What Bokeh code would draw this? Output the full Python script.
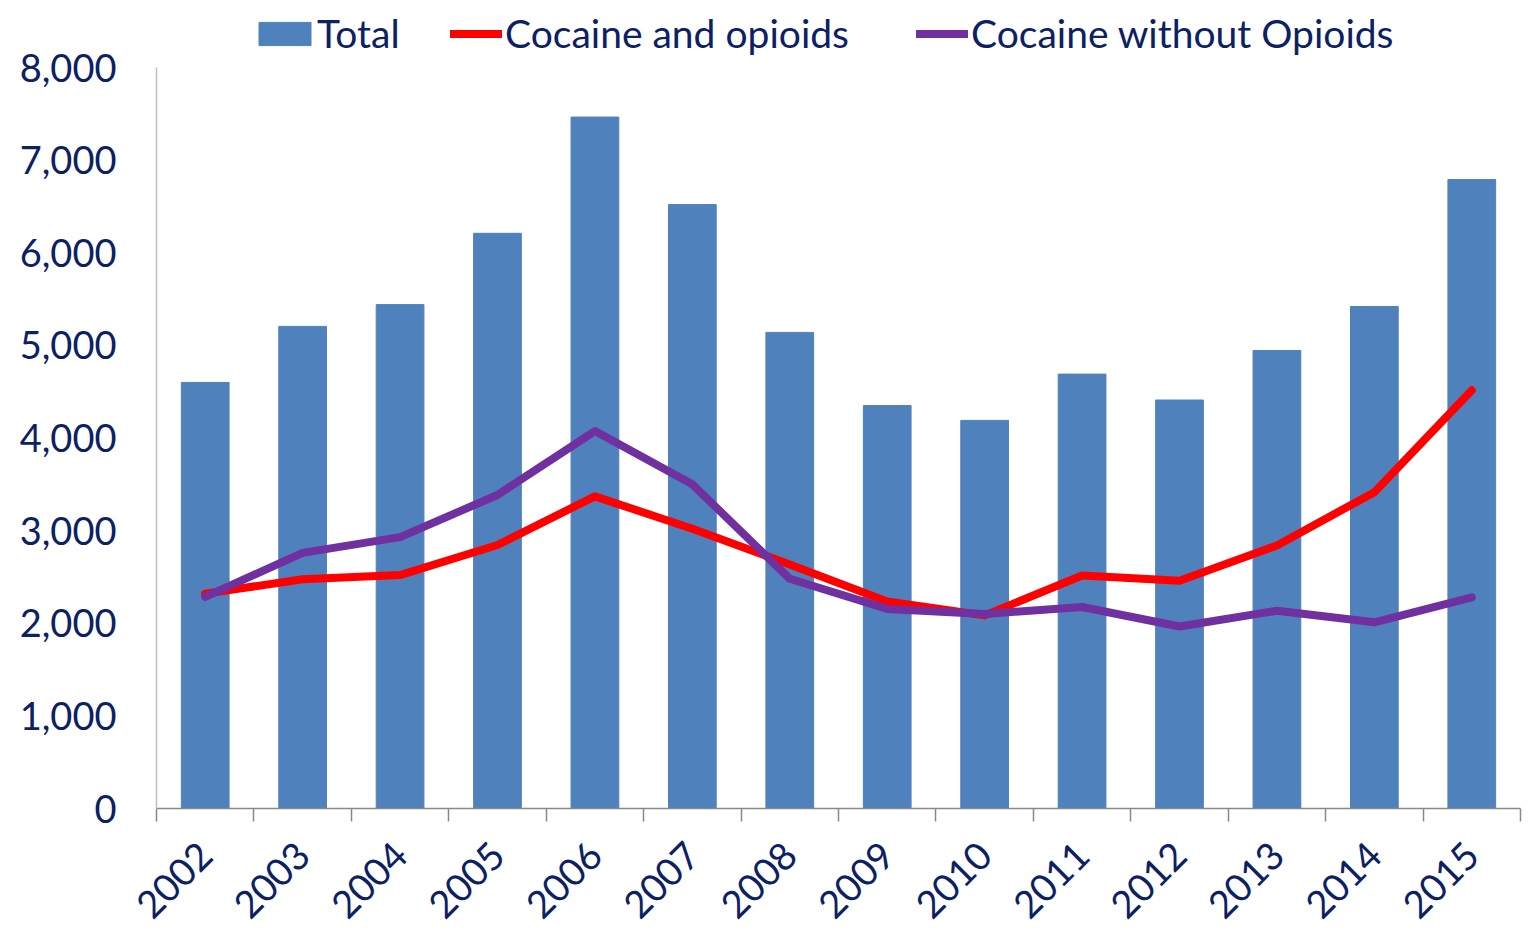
from bokeh.plotting import figure
from bokeh.models import FixedTicker, Range1d, Legend, LegendItem, ColumnDataSource, NumeralTickFormatter
from bokeh.embed import file_html
from bokeh.resources import INLINE

years = ["2002", "2003", "2004", "2005", "2006", "2007", "2008",
         "2009", "2010", "2011", "2012", "2013", "2014", "2015"]
total = [4600, 5205, 5440, 6210, 7465, 6520, 5140, 4350, 4190, 4690, 4410, 4945, 5420, 6790]
cocaine_and_opioids = [2320, 2475, 2520, 2845, 3370, 3020, 2635, 2235, 2085, 2515, 2460, 2840, 3415, 4515]
cocaine_without_opioids = [2285, 2760, 2930, 3385, 4075, 3500, 2480, 2155, 2100, 2175, 1965, 2135, 2010, 2280]
y_ticks = [0, 1000, 2000, 3000, 4000, 5000, 6000, 7000, 8000]
series_names = ["Total", "Cocaine and opioids", "Cocaine without Opioids"]

TEXT = "#0c2163"
FONT = "Lato"

# layout (pixels): frame spans from TOP to BOTTOM, axis top (8,000) sits at AXIS_TOP
TOP, AXIS_TOP, BOTTOM, H = 8, 67, 808, 933
y_end = y_ticks[-1] * (BOTTOM - TOP) / (BOTTOM - AXIS_TOP)

xpos = [i + 0.5 for i in range(len(years))]
src = ColumnDataSource(dict(x=xpos, total=total, co=cocaine_and_opioids, cw=cocaine_without_opioids))

p = figure(width=1524, height=H, output_backend="svg", toolbar_location=None,
           x_range=Range1d(0, len(years)), y_range=Range1d(0, y_end),
           min_border_left=156, min_border_right=4, min_border_top=TOP, min_border_bottom=H - BOTTOM)
p.outline_line_color = None
p.xgrid.visible = False
p.ygrid.visible = False
p.background_fill_color = "white"
p.border_fill_color = "white"

bars = p.vbar(x="x", top="total", width=0.49, source=src, fill_color="#4F81BD", line_color="#4F81BD")
l1 = p.line(x="x", y="co", source=src, line_color="#FF0000", line_width=8, line_cap="round", line_join="round")
l2 = p.line(x="x", y="cw", source=src, line_color="#7030A0", line_width=8, line_cap="round", line_join="round")

# y axis
ya = p.yaxis[0]
ya.ticker = FixedTicker(ticks=y_ticks)
ya.bounds = (y_ticks[0], y_ticks[-1])
ya.formatter = NumeralTickFormatter(format="0,0")
ya.axis_line_color = "#BFBFBF"
ya.axis_line_width = 1.5
ya.major_tick_out = 0
ya.major_tick_in = 0
ya.minor_tick_out = 0
ya.minor_tick_in = 0
ya.major_label_text_font = FONT
ya.major_label_text_font_size = "38px"
ya.major_label_text_color = TEXT
ya.major_label_standoff = 40

# x axis: labels at category centres, tick marks at category boundaries
xa = p.xaxis[0]
xa.ticker = FixedTicker(ticks=xpos, minor_ticks=list(range(len(years) + 1)))
xa.major_label_overrides = {x: y for x, y in zip(xpos, years)}
xa.axis_line_color = "#898989"
xa.axis_line_width = 1.5
xa.major_tick_out = 0
xa.major_tick_in = 0
xa.minor_tick_out = 13
xa.minor_tick_in = 0
xa.minor_tick_line_color = "#898989"
xa.minor_tick_line_width = 1.5
xa.major_label_orientation = 0.785398
xa.major_label_text_font = FONT
xa.major_label_text_font_size = "38px"
xa.major_label_text_color = TEXT
xa.major_label_standoff = 27

# legend entries (one Legend each so every swatch gets its own size)
legend_specs = [
    (series_names[0], bars, 96, 65, 0),
    (series_names[1], l1, 294, 52, 3),
    (series_names[2], l2, 760, 52, 3),
]
for label, rend, lx, gw, standoff in legend_specs:
    lg = Legend(items=[LegendItem(label=label, renderers=[rend])],
                orientation="horizontal", location=(lx, 752))
    lg.label_text_font = FONT
    lg.label_text_font_size = "39px"
    lg.label_text_color = TEXT
    lg.glyph_width = gw
    lg.glyph_height = 29
    lg.label_standoff = standoff
    lg.padding = 0
    lg.margin = 0
    lg.border_line_color = None
    lg.background_fill_alpha = 0
    p.add_layout(lg)

open("out.html", "w").write(file_html(p, INLINE))
